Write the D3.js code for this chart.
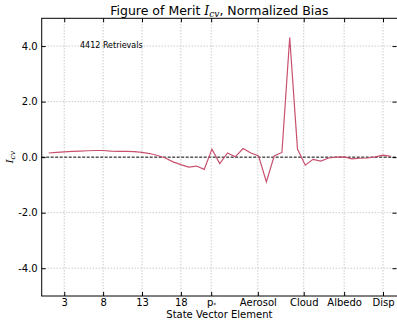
<!DOCTYPE html>
<html>
<head>
<meta charset="utf-8">
<script src="https://cdn.jsdelivr.net/npm/d3@7"></script>
<style>
  body { margin: 0; background: #fff; }
  text { font-family: "DejaVu Sans", sans-serif; fill: #000; }
</style>
</head>
<body>
<script>
const w = 397;
const h = 320;

// state vector element index (1-based) and normalized bias values
const elements = d3.range(1, 46);
const bias = [
  0.15, 0.17, 0.19, 0.21, 0.22, 0.23, 0.24, 0.24, 0.22, 0.21,
  0.21, 0.20, 0.17, 0.13, 0.06, -0.03, -0.17, -0.27, -0.36, -0.32,
  -0.44, 0.29, -0.23, 0.15, 0.01, 0.31, 0.15, 0.04, -0.89, 0.04,
  0.17, 4.31, 0.29, -0.29, -0.08, -0.14, -0.03, 0.00, 0.01, -0.06,
  -0.04, -0.03, 0.01, 0.07, 0.03
];

const xTickValues = [3, 8, 13, 18, 21.9, 27.9, 33.8, 39, 44];
const xTickLabels = ["3", "8", "13", "18", "p*", "Aerosol", "Cloud", "Albedo", "Disp"];
const yTickValues = [-4, -2, 0, 2, 4];

const padL = 41.7, padR = 397, padT = 18.3, padB = 296;

const svg = d3.select("body")
  .append("svg")
  .attr("width", w)
  .attr("height", h);

const xScale = d3.scaleLinear()
  .domain([0.1, 45.8])
  .range([padL, padR]);

const yScale = d3.scaleLinear()
  .domain([-5, 5])
  .range([padB, padT]);

// grid lines
svg.append("g")
  .selectAll("line")
  .data(xTickValues)
  .enter()
  .append("line")
  .attr("x1", d => xScale(d))
  .attr("x2", d => xScale(d))
  .attr("y1", padT)
  .attr("y2", padB)
  .attr("stroke", "#a0a0a0")
  .attr("stroke-width", 0.8)
  .attr("stroke-dasharray", "1,2");

svg.append("g")
  .selectAll("line")
  .data(yTickValues.filter(d => d !== 0))
  .enter()
  .append("line")
  .attr("x1", padL)
  .attr("x2", padR)
  .attr("y1", d => yScale(d))
  .attr("y2", d => yScale(d))
  .attr("stroke", "#a0a0a0")
  .attr("stroke-width", 0.8)
  .attr("stroke-dasharray", "1,2");

// zero line
svg.append("line")
  .attr("x1", padL)
  .attr("x2", padR)
  .attr("y1", yScale(0))
  .attr("y2", yScale(0))
  .attr("stroke", "#000")
  .attr("stroke-width", 1)
  .attr("stroke-dasharray", "3,1.5");

// data line
const line = d3.line()
  .x((d, i) => xScale(elements[i]))
  .y(d => yScale(d));

svg.append("path")
  .datum(bias)
  .attr("d", line)
  .attr("fill", "none")
  .attr("stroke", "#c8506e")
  .attr("stroke-width", 1.2);

// frame
svg.append("rect")
  .attr("x", padL)
  .attr("y", padT)
  .attr("width", padR - padL + 5)
  .attr("height", padB - padT)
  .attr("fill", "none")
  .attr("stroke", "#000")
  .attr("stroke-width", 1);

// axes (ticks inside)
const xAxis = d3.axisBottom(xScale)
  .tickValues(xTickValues)
  .tickSize(-4)
  .tickPadding(3)
  .tickFormat((d, i) => xTickLabels[i]);
const xAxisGroup = svg.append("g")
  .attr("transform", `translate(0, ${padB})`)
  .call(xAxis);
xAxisGroup.select(".domain").remove();
xAxisGroup.selectAll("text")
  .style("font-size", "10px")
  .style("font-family", "DejaVu Sans, sans-serif")
  .each(function(d, i) {
    if (xTickLabels[i] === "p*") {
      const t = d3.select(this).text("");
      t.append("tspan").text("p");
      t.append("tspan").attr("dy", 0.5).style("font-size", "6px").text("*");
    }
  });

const xTop = d3.axisTop(xScale)
  .tickValues(xTickValues)
  .tickSize(-4)
  .tickFormat("");
svg.append("g")
  .attr("transform", `translate(0, ${padT})`)
  .call(xTop)
  .select(".domain").remove();

const yAxis = d3.axisLeft(yScale)
  .tickValues(yTickValues)
  .tickSize(-4)
  .tickPadding(4)
  .tickFormat(d3.format(".1f"));
const yAxisGroup = svg.append("g")
  .attr("transform", `translate(${padL}, 0)`)
  .call(yAxis);
yAxisGroup.select(".domain").remove();
yAxisGroup.selectAll("text")
  .style("font-size", "10px")
  .style("font-family", "DejaVu Sans, sans-serif")
  .text(d => d3.format(".1f")(d).replace("−", "-"));

const yRight = d3.axisRight(yScale)
  .tickValues(yTickValues)
  .tickSize(-4)
  .tickFormat("");
svg.append("g")
  .attr("transform", `translate(${padR - 0.5}, 0)`)
  .call(yRight)
  .select(".domain").remove();

// title
const title = svg.append("text")
  .attr("x", (padL + padR) / 2)
  .attr("y", 15)
  .attr("text-anchor", "middle")
  .style("font-size", "12.5px");
title.append("tspan").text("Figure of Merit ");
title.append("tspan")
  .style("font-family", "DejaVu Serif, serif")
  .style("font-style", "italic")
  .text("I");
title.append("tspan")
  .style("font-family", "DejaVu Serif, serif")
  .style("font-style", "italic")
  .style("font-size", "9px")
  .attr("dy", 2)
  .text("cv");
title.append("tspan").attr("dy", -2).text(", Normalized Bias");

// annotation
svg.append("text")
  .attr("x", 80)
  .attr("y", 48)
  .style("font-size", "8px")
  .text("4412 Retrievals");

// axis labels
svg.append("text")
  .attr("x", (padL + padR) / 2)
  .attr("y", 317.5)
  .attr("text-anchor", "middle")
  .style("font-size", "10px")
  .text("State Vector Element");

const yLabel = svg.append("text")
  .attr("transform", `translate(13, ${yScale(0)}) rotate(-90)`)
  .attr("text-anchor", "middle")
  .style("font-family", "DejaVu Serif, serif")
  .style("font-style", "italic")
  .style("font-size", "10px");
yLabel.append("tspan").text("I");
yLabel.append("tspan").style("font-size", "7.5px").attr("dy", 1.5).text("cv");
</script>
</body>
</html>
